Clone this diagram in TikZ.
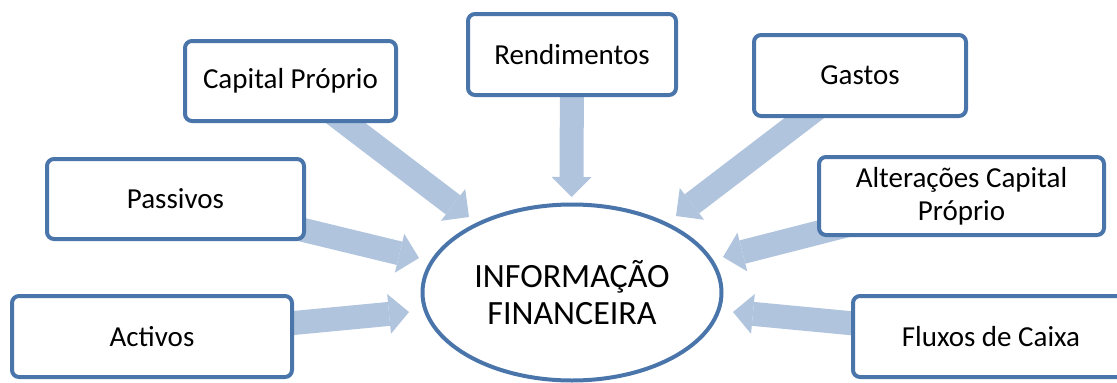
\documentclass[tikz,border=0pt]{standalone}
\usepackage{fontspec}
\setmainfont{Carlito}
\usetikzlibrary{arrows.meta,shapes.geometric}
\pgfdeclarelayer{bg}
\pgfsetlayers{bg,main}
\definecolor{edgeblue}{RGB}{74,117,170}
\definecolor{arrowblue}{RGB}{176,196,222}
\tikzset{
  box/.style={draw=edgeblue, line width=4pt, fill=white, rounded corners=7pt,
    minimum height=80pt, inner sep=2pt, align=center, font=\fontsize{29}{33}\selectfont},
  centre/.style={draw=edgeblue, line width=4pt, fill=white, ellipse,
    minimum width=299pt, minimum height=176pt, inner sep=0pt, align=center,
    font=\fontsize{34}{37}\selectfont},
  bigarrow/.style={draw=arrowblue, line width=24pt, line cap=butt,
    -{Triangle[length=20pt,width=40pt,line width=0pt,fill=arrowblue]}}
}
\begin{document}
\begin{tikzpicture}[x=1pt,y=-1pt]
\useasboundingbox (0,0) rectangle (1117,383);
\clip (0,0) rectangle (1117,383);
% boxes
\node[box, minimum width=211pt] (cap) at (290.5,81) {Capital Próprio};
\node[box, minimum width=208pt, minimum height=81pt] (rend) at (572,54.5) {Rendimentos};
\node[box, minimum width=212pt, minimum height=81pt] (gas) at (860,75.5) {Gastos};
\node[box, minimum width=257pt] (pas) at (175.5,199) {Passivos};
\node[box, minimum width=280pt, minimum height=81pt] (act) at (152,336.5) {Activos};
\node[box, minimum width=285pt, minimum height=78pt] (alt) at (961.5,196) {Alterações Capital\\Próprio};
\node[box, minimum width=276pt, minimum height=81pt] (flu) at (991,336.5) {Fluxos de Caixa};
\node[centre] (info) at (572,292.5) {INFORMAÇÃO\\FINANCEIRA};
% arrow tips
\coordinate (tcap) at (469,217);
\coordinate (trend) at (571.5,197);
\coordinate (tgas) at (676,216);
\coordinate (tpas) at (419,258);
\coordinate (tact) at (409,312);
\coordinate (talt) at (723,257);
\coordinate (tflu) at (733,312);
\begin{pgfonlayer}{bg}
\draw[bigarrow] (cap.center) -- (tcap);
\draw[bigarrow] (rend.center) -- (trend);
\draw[bigarrow] (gas.center) -- (tgas);
\draw[bigarrow] (pas.center) -- (tpas);
\draw[bigarrow] (act.center) -- (tact);
\draw[bigarrow] (alt.center) -- (talt);
\draw[bigarrow] (flu.center) -- (tflu);
\end{pgfonlayer}
\end{tikzpicture}
\end{document}
